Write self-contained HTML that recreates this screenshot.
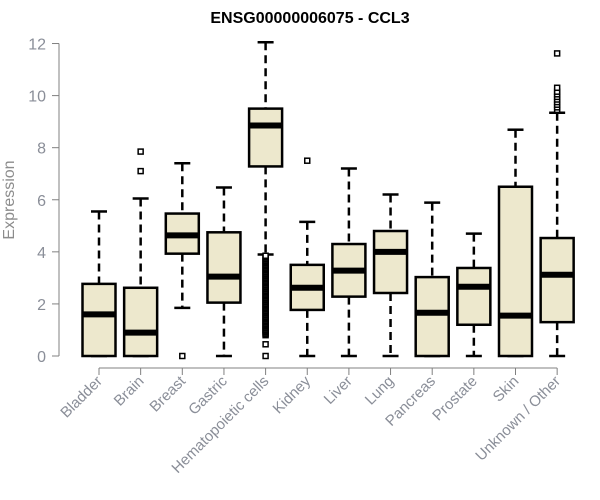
<!DOCTYPE html>
<html><head><meta charset="utf-8"><style>body{margin:0;background:#fff}svg{display:block;font-family:"Liberation Sans",Arial,sans-serif}</style></head>
<body>
<svg id="chart" width="600" height="500" xmlns="http://www.w3.org/2000/svg">
<text x="310" y="23" text-anchor="middle" font-size="16" font-weight="bold">ENSG00000006075 - CCL3</text>
<text transform="translate(14,200) rotate(-90)" text-anchor="middle" font-size="16" fill="#8c8c8c">Expression</text>
<g id="axes"></g><g id="boxes"></g>
</svg>
<script>
const categories=["Bladder","Brain","Breast","Gastric","Hematopoietic cells","Kidney","Liver","Lung","Pancreas","Prostate","Skin","Unknown / Other"];
const mins=[0,0,1.85,0,3.9,0,0,0,0,0,0,0];
const q1s=[0,0,3.93,2.05,7.28,1.77,2.28,2.42,0,1.2,0,1.3];
const medians=[1.6,0.9,4.63,3.05,8.85,2.62,3.28,4.0,1.66,2.66,1.55,3.12];
const q3s=[2.77,2.62,5.47,4.75,9.5,3.5,4.3,4.8,3.03,3.38,6.5,4.53];
const maxs=[5.55,6.05,7.4,6.47,12.05,5.15,7.2,6.2,5.89,4.7,8.69,9.34];
const outliers=[[],[7.1,7.85],[0],[],[0,0.45,0.8,0.85,0.9,0.95,1.0,1.05,1.1,1.15,1.2,1.25,1.3,1.35,1.4,1.45,1.5,1.55,1.6,1.65,1.7,1.75,1.8,1.85,1.9,1.95,2.0,2.05,2.1,2.15,2.2,2.25,2.3,2.35,2.4,2.45,2.5,2.55,2.6,2.65,2.7,2.75,2.8,2.85,2.9,2.95,3.0,3.05,3.1,3.15,3.2,3.25,3.3,3.35,3.4,3.45,3.5,3.55,3.6,3.65,3.7,3.75,3.8,3.85],[7.5],[],[],[],[],[],[9.45,9.55,9.65,9.75,9.85,9.95,10.05,10.15,10.3,11.62]];
const yTicks=[0,2,4,6,8,10,12];
const NS="http://www.w3.org/2000/svg";
const y=v=>356-v*26.04;
const x=i=>99+i*41.65;
const bw=33;
function mk(tag,attrs,parent){const e=document.createElementNS(NS,tag);for(const k in attrs)e.setAttribute(k,attrs[k]);parent.appendChild(e);return e;}
const ax=document.getElementById('axes'),bx=document.getElementById('boxes');
let l=mk('line',{x1:59,x2:59,y1:y(0),y2:y(12),stroke:'#808080'},ax);


yTicks.forEach(t=>{
 let tk=mk('line',{x1:52,x2:59,y1:y(t),y2:y(t),stroke:'#808080'},ax);
 
 
 let tx=mk('text',{x:46,y:y(t)+6,'text-anchor':'end','font-size':16,fill:'#8a8e98'},ax);
 
 
 tx.textContent=t;
});
let xa=mk('line',{x1:x(0),x2:x(categories.length-1),y1:368,y2:368,stroke:'#808080'},ax);


categories.forEach((c,i)=>{
 const cx=x(i);
 let tk=mk('line',{x1:cx,x2:cx,y1:368,y2:375,stroke:'#808080'},ax);
 
 
 let tx=mk('text',{transform:`translate(${cx+4},${382}) rotate(-45)`,'text-anchor':'end','font-size':15,fill:'#8a8e98'},ax);
 
 
 tx.textContent=c;
 const g=mk('g',{},bx);
 
 
 mk('line',{x1:cx,x2:cx,y1:y(maxs[i]),y2:y(q3s[i]),stroke:'#000','stroke-width':2.5,'stroke-dasharray':'8,5'},g);
 mk('line',{x1:cx,x2:cx,y1:y(q1s[i]),y2:y(mins[i]),stroke:'#000','stroke-width':2.5,'stroke-dasharray':'8,5'},g);
 mk('line',{x1:cx-8,x2:cx+8,y1:y(maxs[i]),y2:y(maxs[i]),stroke:'#000','stroke-width':2.5},g);
 mk('line',{x1:cx-8,x2:cx+8,y1:y(mins[i]),y2:y(mins[i]),stroke:'#000','stroke-width':2.5},g);
 mk('rect',{x:cx-bw/2,y:y(q3s[i]),width:bw,height:y(q1s[i])-y(q3s[i]),fill:'#ede8cd',stroke:'#000','stroke-width':2.5},g);
 mk('line',{x1:cx-bw/2,x2:cx+bw/2,y1:y(medians[i]),y2:y(medians[i]),stroke:'#000','stroke-width':6},g);
 outliers[i].forEach(o=>{
  let p=mk('rect',{x:cx-2.5,y:y(o)-2.5,width:5,height:5,fill:'#fff',stroke:'#000','stroke-width':1.5},g);
  
  
 });
});
</script>
</body></html>
